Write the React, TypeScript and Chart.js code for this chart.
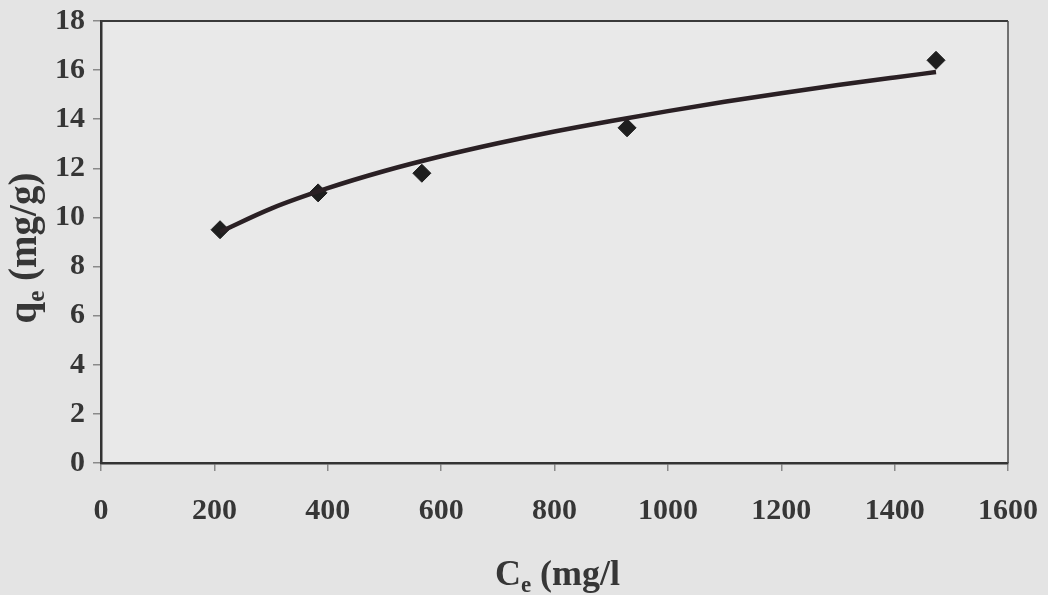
import React, { useEffect, useRef } from "react";
import { Chart, registerables } from "chart.js";

Chart.register(...registerables);

// Measured data points (Ce in mg/l, qe in mg/g)
const ceValues = [210, 383, 566, 928, 1473];
const qeValues = [9.5, 11.0, 11.8, 13.65, 16.4];

// Fitted (Freundlich) curve
const fitCe = [210, 300, 400, 500, 600, 700, 800, 900, 1000, 1100, 1200, 1300, 1400, 1473];
const fitQe = [9.41, 10.36, 11.19, 11.89, 12.49, 13.02, 13.5, 13.93, 14.33, 14.71, 15.06, 15.39, 15.7, 15.92];

// Axis ranges / ticks
const xTicks = [0, 200, 400, 600, 800, 1000, 1200, 1400, 1600];
const yTicks = [0, 2, 4, 6, 8, 10, 12, 14, 16, 18];

const xTitleMain = "C";
const xTitleSub = "e";
const xTitleRest = " (mg/l";
const yTitleMain = "q";
const yTitleSub = "e";
const yTitleRest = " (mg/g)";

const FONT = '"Liberation Serif", "Times New Roman", serif';
const TEXT = "#363636";

function drawSubTitle(ctx: CanvasRenderingContext2D, main: string, sub: string, rest: string, size: number) {
  const subSize = Math.round(size * 0.65);
  ctx.font = `bold ${size}px ${FONT}`;
  const wMain = ctx.measureText(main).width;
  const wRest = ctx.measureText(rest).width;
  ctx.font = `bold ${subSize}px ${FONT}`;
  const wSub = ctx.measureText(sub).width;
  const total = wMain + wSub + wRest;
  let x = -total / 2;
  ctx.textBaseline = "alphabetic";
  ctx.textAlign = "left";
  ctx.fillStyle = TEXT;
  ctx.font = `bold ${size}px ${FONT}`;
  ctx.fillText(main, x, 0);
  x += wMain;
  ctx.font = `bold ${subSize}px ${FONT}`;
  ctx.fillText(sub, x, size * 0.2);
  x += wSub;
  ctx.font = `bold ${size}px ${FONT}`;
  ctx.fillText(rest, x, 0);
}

const framePlugin = {
  id: "frameAndTitles",
  beforeDatasetsDraw(chart: any) {
    const { ctx, chartArea: a } = chart;
    ctx.save();
    ctx.strokeStyle = "#3a3a3a";
    ctx.lineWidth = 2;
    ctx.beginPath();
    ctx.moveTo(a.left, a.top);
    ctx.lineTo(a.right, a.top);
    ctx.stroke();
    ctx.lineWidth = 1.5;
    ctx.strokeStyle = "#4a4a4a";
    ctx.beginPath();
    ctx.moveTo(a.right, a.top);
    ctx.lineTo(a.right, a.bottom);
    ctx.stroke();
    ctx.restore();
  },
  beforeDraw(chart: any) {
    const { ctx, chartArea: a } = chart;
    ctx.save();
    ctx.fillStyle = "#e4e4e4";
    ctx.fillRect(0, 0, chart.width, chart.height);
    ctx.fillStyle = "#e9e9e9";
    ctx.fillRect(a.left, a.top, a.right - a.left, a.bottom - a.top);
    ctx.restore();
  },
  afterDraw(chart: any) {
    const { ctx, chartArea: a } = chart;
    ctx.save();
    ctx.translate((a.left + a.right) / 2 + 3, 585);
    drawSubTitle(ctx, xTitleMain, xTitleSub, xTitleRest, 36);
    ctx.restore();
    ctx.save();
    ctx.translate(36, (a.top + a.bottom) / 2 + 6);
    ctx.rotate(-Math.PI / 2);
    drawSubTitle(ctx, yTitleMain, yTitleSub, yTitleRest, 39);
    ctx.restore();
  },
};

export default function App() {
  const ref = useRef<HTMLCanvasElement | null>(null);
  useEffect(() => {
    if (!ref.current) return;
    const chart = new Chart(ref.current, {
      type: "scatter",
      data: {
        datasets: [
          {
            type: "line",
            data: fitCe.map((x, i) => ({ x, y: fitQe[i] })),
            borderColor: "#2a2024",
            borderWidth: 4.5,
            pointRadius: 0,
            cubicInterpolationMode: "monotone",
            fill: false,
            order: 0,
          } as any,
          {
            type: "scatter",
            data: ceValues.map((x, i) => ({ x, y: qeValues[i] })),
            pointStyle: "rectRot",
            pointRadius: 9,
            backgroundColor: "#1e1e1e",
            borderColor: "#1e1e1e",
            borderWidth: 1,
            order: 1,
          } as any,
        ],
      },
      options: {
        responsive: false,
        animation: false,
        devicePixelRatio: 1,
        layout: { padding: { top: 21, right: 40, left: 0, bottom: 0 } },
        plugins: { legend: { display: false }, tooltip: { enabled: false } },
        scales: {
          x: {
            type: "linear",
            min: 0,
            max: 1600,
            afterBuildTicks: (s: any) => {
              s.ticks = xTicks.map((v) => ({ value: v }));
            },
            afterFit: (s: any) => {
              s.height = 132;
              s.paddingLeft = 0;
              s.paddingRight = 0;
            },
            ticks: {
              font: { family: FONT, size: 30, weight: "bold" },
              color: TEXT,
              padding: 22,
              maxRotation: 0,
              callback: (v: any) => String(v),
            },
            grid: {
              drawOnChartArea: false,
              drawTicks: true,
              tickLength: 8,
              color: "#8a8a8a",
              lineWidth: 1.5,
            },
            border: { display: true, color: "#333333", width: 2.5 },
          },
          y: {
            type: "linear",
            min: 0,
            max: 18,
            afterBuildTicks: (s: any) => {
              s.ticks = yTicks.map((v) => ({ value: v }));
            },
            afterFit: (s: any) => {
              s.width = 101;
              s.paddingTop = 0;
              s.paddingBottom = 0;
            },
            ticks: {
              font: { family: FONT, size: 30, weight: "bold" },
              color: TEXT,
              padding: 8,
              callback: (v: any) => String(v),
            },
            grid: {
              drawOnChartArea: false,
              drawTicks: true,
              tickLength: 8,
              color: "#8a8a8a",
              lineWidth: 1.5,
            },
            border: { display: true, color: "#333333", width: 2.5 },
          },
        },
      },
      plugins: [framePlugin],
    });
    return () => chart.destroy();
  }, []);
  return (
    <div style={{ position: "fixed", left: 0, top: 0, width: 1048, height: 595, background: "#e4e4e4" }}>
      <canvas ref={ref} width={1048} height={595} style={{ display: "block", width: 1048, height: 595 }} />
    </div>
  );
}
